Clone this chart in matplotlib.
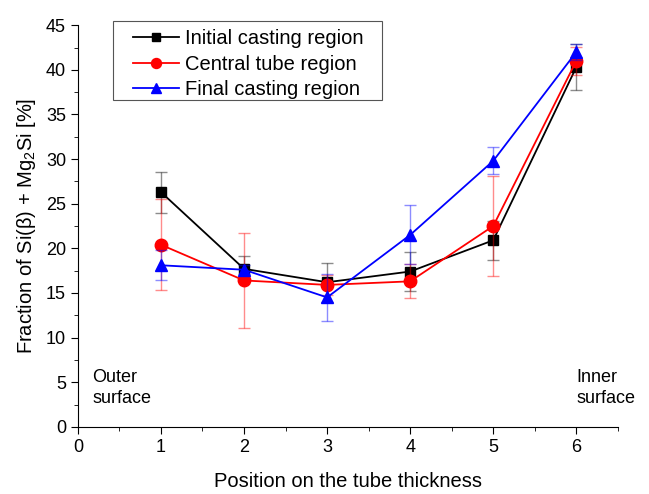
import matplotlib
matplotlib.use("Agg")
import matplotlib.pyplot as plt
from matplotlib.patches import Rectangle
from matplotlib.ticker import MultipleLocator

plt.rcParams['font.family'] = ['Liberation Sans', 'DejaVu Sans']
plt.rcParams['mathtext.fontset'] = 'custom'
plt.rcParams['mathtext.rm'] = 'Liberation Sans'
plt.rcParams['mathtext.it'] = 'Liberation Sans:italic'

positions = [1, 2, 3, 4, 5, 6]

initial = [26.3, 17.7, 16.2, 17.4, 20.9, 40.3]
initial_err = [2.3, 1.4, 2.2, 2.2, 2.2, 2.6]

central = [20.4, 16.4, 15.9, 16.3, 22.5, 41.0]
central_err = [5.1, 5.3, 1.1, 1.9, 5.6, 1.6]

final = [18.1, 17.6, 14.5, 21.5, 29.8, 42.0]
final_err = [1.7, 0.5, 2.6, 3.3, 1.5, 0.9]

series = [
    ("Initial casting region", initial, initial_err, "black", "s", 7),
    ("Central tube region", central, central_err, "red", "o", 9),
    ("Final casting region", final, final_err, "blue", "^", 9),
]

fig = plt.figure(figsize=(6.49, 4.94), dpi=100)
ax = fig.add_axes([0.12, 0.136, 0.832, 0.813])

for label, vals, errs, color, marker, ms in series:
    ax.errorbar(positions, vals, yerr=errs, fmt="none", ecolor=color,
                alpha=0.45, elinewidth=1, capsize=4, capthick=1)
    ax.plot(positions, vals, color=color, marker=marker, markersize=ms,
            linewidth=1.3, label=label)

ax.set_xlim(0, 6.5)
ax.set_ylim(0, 45)
ax.xaxis.set_major_locator(MultipleLocator(1))
ax.xaxis.set_minor_locator(MultipleLocator(0.5))
ax.yaxis.set_major_locator(MultipleLocator(5))
ax.yaxis.set_minor_locator(MultipleLocator(2.5))
ax.tick_params(which="major", direction="out", length=5, labelsize=13)
ax.tick_params(which="minor", direction="out", length=3)

ax.spines["top"].set_visible(False)
ax.spines["right"].set_visible(False)

ax.set_xlabel("Position on the tube thickness", fontsize=14.5, labelpad=12)
ax.set_ylabel("Fraction of Si(β) + Mg$_2$Si [%]", fontsize=14.5, labelpad=6)

ax.text(0.17, 4.3, "Outer\nsurface", fontsize=13, ha="left", va="center",
        linespacing=1.3)
ax.text(6.0, 4.3, "Inner\nsurface", fontsize=13, ha="left", va="center",
        linespacing=1.3, clip_on=False)

# legend without its own frame, boxed by a wider rectangle like the original
leg = ax.legend(loc="upper left", bbox_to_anchor=(0.102, 0.99), fontsize=14.5,
                frameon=False, handlelength=2.3, borderpad=0,
                labelspacing=0.32, handletextpad=0.3, markerscale=0.8,
                borderaxespad=0)
fig.patches.append(Rectangle((0.174, 0.798), 0.4145, 0.16,
                             transform=fig.transFigure, fill=False,
                             edgecolor="#555555", linewidth=0.8))

fig.savefig("out.png", dpi=100)
